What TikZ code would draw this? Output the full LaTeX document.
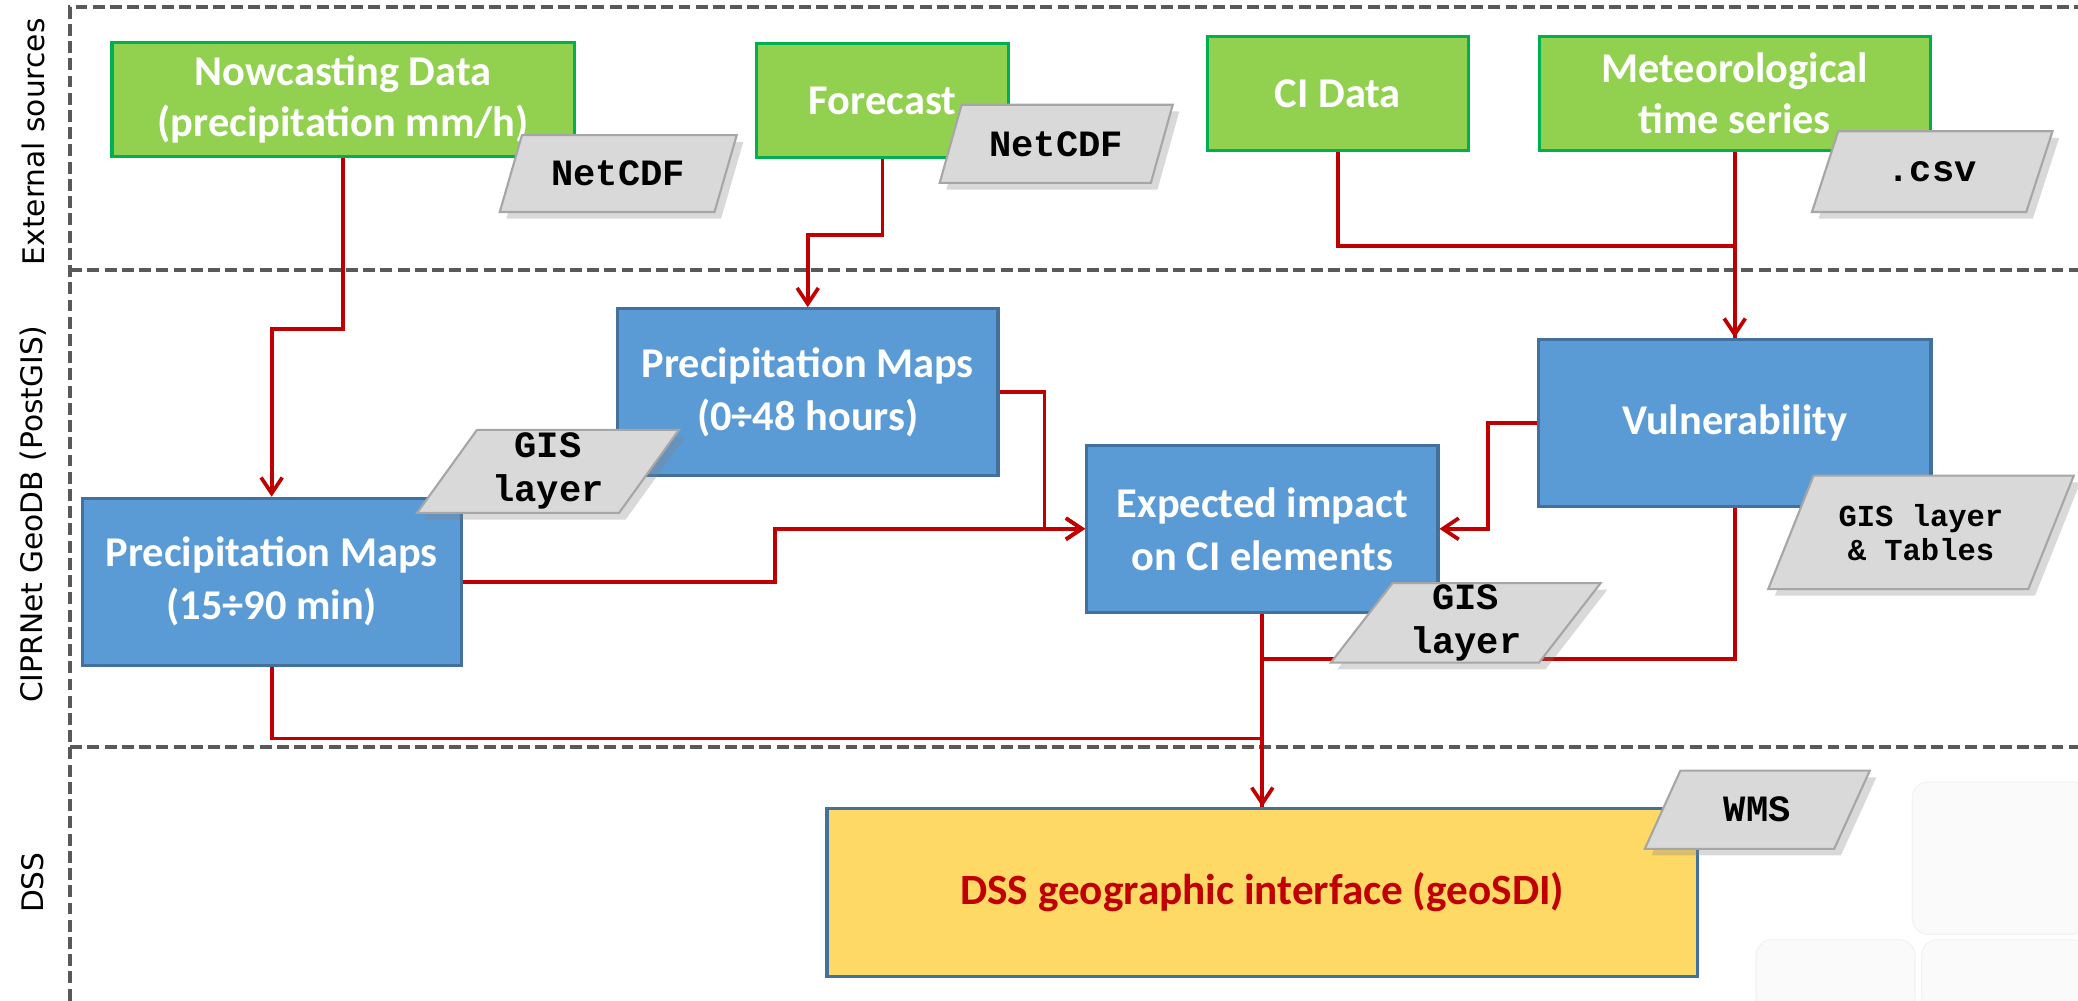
\documentclass[tikz,border=0pt]{standalone}
\usepackage{fontspec}
\setmainfont{Carlito}
\newfontfamily\tagfont{Liberation Mono}
\newfontfamily\sidefont{DejaVu Sans}
\definecolor{srcgreen}{HTML}{92D050}
\definecolor{srcline}{HTML}{00B050}
\definecolor{dbblue}{HTML}{5B9BD5}
\definecolor{dbline}{HTML}{41719C}
\definecolor{dssyellow}{HTML}{FFD966}
\definecolor{flowred}{HTML}{C00000}
\definecolor{tagfill}{HTML}{D9D9D9}
\definecolor{tagline}{HTML}{A6A6A6}
\definecolor{framegray}{HTML}{595959}
\usetikzlibrary{shapes.geometric, arrows.meta, shadows}

\begin{document}
\begin{tikzpicture}[x=0.5pt, y=-0.5pt,
    every node/.style={inner sep=0pt},
    source/.style={rectangle, draw=srcline, fill=srcgreen, line width=1.2pt, text=white,
                   align=center, font=\bfseries\fontsize{16}{19.5}\selectfont, minimum height=43pt},
    store/.style={rectangle, draw=dbline, fill=dbblue, line width=1.2pt, text=white,
                  align=center, font=\bfseries\fontsize{16}{20}\selectfont, minimum height=63pt},
    tag/.style={trapezium, trapezium left angle=58.5, trapezium right angle=121.5,
                trapezium stretches=true, draw=tagline, fill=tagfill, line width=0.8pt,
                align=center, font=\tagfont\bfseries\fontsize{14}{16.6}\selectfont,
                drop shadow={shadow xshift=2.5pt, shadow yshift=-2.5pt, opacity=0.3}},
    flow/.style={draw=flowred, line width=1.4pt},
    arr/.style={flow, -{Straight Barb[length=6pt, width=8pt]}},
    frame/.style={draw=framegray, line width=1.5pt, dash pattern=on 4.5pt off 2pt},
    side/.style={rotate=90, font=\sidefont\fontsize{11.2}{13}\selectfont},
    tile/.style={fill=black!2, draw=black!5, rounded corners=6pt}
]
\useasboundingbox (0,0) rectangle (1568,755);

% faint tiles, bottom right
\path[tile] (1443,590) rectangle (1575,705);
\path[tile] (1325,709) rectangle (1445,765);
\path[tile] (1450,709) rectangle (1575,765);

% swimlanes
\draw[frame] (53,755) -- (53,5) -- (1568,5);
\draw[frame] (53,204) -- (1568,204);
\draw[frame] (53,564) -- (1568,564);
\node[side] (labExt) at (25,107) {External sources};
\node[side] (labDb) at (25,388) {CIPRNet GeoDB (PostGIS)};
\node[side] (labDss) at (25,666) {DSS};

% external sources
\node[source, minimum width=174.5pt] (nowcast) at (259,75) {Nowcasting Data\\(precipitation mm/h)};
\node[source, minimum width=95pt] (forecast) at (666,76) {Forecast};
\node[source, minimum width=98.5pt] (cidata) at (1009.5,70.5) {CI Data};
\node[source, minimum width=147.5pt] (meteo) at (1309,70.5) {Meteorological\\time series};

% geodb
\node[store, minimum width=143pt] (pm15) at (205,439) {Precipitation Maps\\(15÷90 min)};
\node[store, minimum width=143.5pt] (pm48) at (609.5,296) {Precipitation Maps\\(0÷48 hours)};
\node[store, minimum width=132.5pt] (impact) at (952.5,399) {Expected impact\\on CI elements};
\node[store, minimum width=148pt] (vuln) at (1309,319) {Vulnerability};

% dss
\node[rectangle, draw=dbline, fill=dssyellow, line width=1.2pt, minimum width=328.5pt,
      minimum height=63.5pt, text=flowred, font=\bfseries\fontsize{16.3}{19}\selectfont]
      (dss) at (952.5,673.5) {DSS geographic interface (geoSDI)};

% flows
\draw[arr] (nowcast.south) -- ++(0,129) -| (pm15.north);
\draw[arr] (forecast.south) -- ++(0,57) -| (pm48.north);
\draw[flow] (cidata.south) -- ++(0,71) -| (vuln.north);
\draw[arr] (meteo.south) -- (vuln.north);
\draw[arr] (pm48.east) -- ++(34,0) |- (impact.west);
\draw[arr] (pm15.east) -- ++(235.5,0) |- (impact.west);
\draw[arr] (vuln.west) -- ++(-37,0) |- (impact.east);
\draw[flow] (vuln.south) -- ++(0,114) -| (impact.south);
\draw[flow] (pm15.south) -- ++(0,54) -| (dss.north);
\draw[arr] (impact.south) -- (dss.north);

% formats
\node[tag, minimum width=89.5pt, minimum height=29pt] (netcdfNow) at (466.5,131) {NetCDF};
\node[tag, minimum width=88pt, minimum height=29.5pt] (netcdfFc) at (797,108.5) {NetCDF};
\node[tag, minimum width=91pt, minimum height=30.5pt] (csvTag) at (1458,129.5) {.csv};
\node[tag, minimum width=99pt, minimum height=31.3pt] (gisPm) at (413.5,355.7) {GIS\\layer};
\node[tag, minimum width=102pt, minimum height=30pt] (gisImpact) at (1106,470) {GIS\\layer};
\node[tag, minimum width=115.5pt, minimum height=42.8pt,
      font=\tagfont\bfseries\fontsize{11.5}{13}\selectfont] (gisVuln) at (1449.5,401.7) {GIS layer\\\& Tables};
\node[tag, minimum width=85pt, minimum height=29.5pt] (wmsTag) at (1326,611) {WMS};
\end{tikzpicture}
\end{document}
